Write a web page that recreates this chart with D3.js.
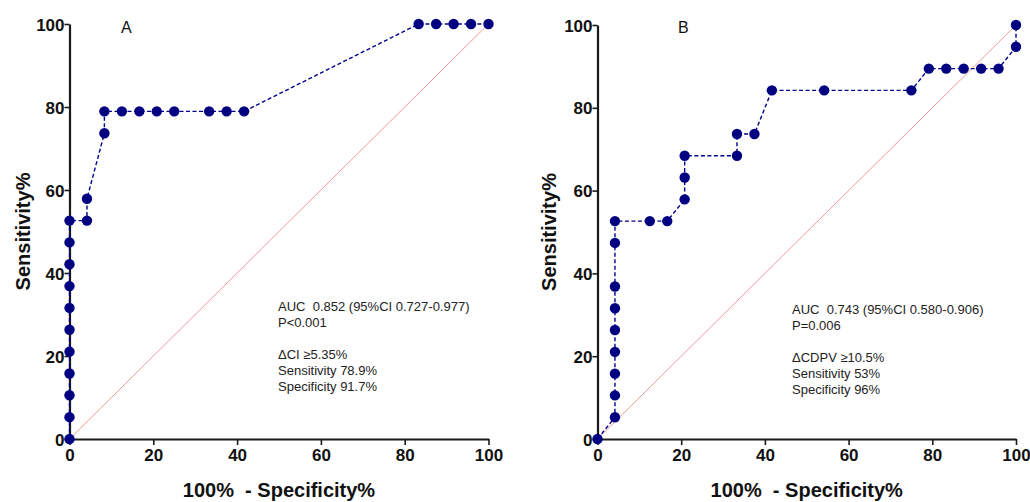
<!DOCTYPE html>
<html>
<head>
<meta charset="utf-8">
<script src="https://cdn.jsdelivr.net/npm/d3@7"></script>
<style>
  body { margin: 0; background: #ffffff; }
</style>
</head>
<body>
<div class="chart"></div>
<script>
var w = 1030;
var h = 502;

// panel A: ROC points (100% - specificity, sensitivity)
var rocAx = [0, 0, 0, 0, 0, 0, 0, 0, 0, 0, 0, 4.17, 4.17, 8.33, 8.33, 12.5, 16.67, 20.83, 25, 33.33, 37.5, 41.67, 83.33, 87.5, 91.67, 95.83, 100];
var rocAy = [0, 5.26, 10.53, 15.79, 21.05, 26.32, 31.58, 36.84, 42.11, 47.37, 52.63, 52.63, 57.89, 73.68, 78.95, 78.95, 78.95, 78.95, 78.95, 78.95, 78.95, 78.95, 100, 100, 100, 100, 100];

// panel B
var rocBx = [0, 4.17, 4.17, 4.17, 4.17, 4.17, 4.17, 4.17, 4.17, 4.17, 12.5, 16.67, 20.83, 20.83, 20.83, 33.33, 33.33, 37.5, 41.67, 54.17, 75, 79.17, 83.33, 87.5, 91.67, 95.83, 100, 100];
var rocBy = [0, 5.26, 10.53, 15.79, 21.05, 26.32, 31.58, 36.84, 47.37, 52.63, 52.63, 52.63, 57.89, 63.16, 68.42, 68.42, 73.68, 73.68, 84.21, 84.21, 84.21, 89.47, 89.47, 89.47, 89.47, 89.47, 94.74, 100];

var ticks = [0, 20, 40, 60, 80, 100];

var notesA = ["AUC  0.852 (95%CI 0.727-0.977)", "P<0.001", "", "\u0394CI \u22655.35%", "Sensitivity 78.9%", "Specificity 91.7%"];
var notesB = ["AUC  0.743 (95%CI 0.580-0.906)", "P=0.006", "", "\u0394CDPV \u226510.5%", "Sensitivity 53%", "Specificity 96%"];

var colorLine = "#00008b";
var colorRef = "#f28c8c";
var font = "'Liberation Sans', Arial, sans-serif";

var svg = d3.select(".chart")
    .append("svg")
    .attr("width", w)
    .attr("height", h)
    .style("background", "#ffffff");

drawPanel({ x0: 69.5, x1: 488.5, y0: 439, y1: 24, xs: rocAx, ys: rocAy, letter: "A", lx: 121, notes: notesA, nx: 278, ny: 311, ylab: 24 });
drawPanel({ x0: 597.5, x1: 1016, y0: 439, y1: 25, xs: rocBx, ys: rocBy, letter: "B", lx: 678, notes: notesB, nx: 792, ny: 314, ylab: 550 });

function drawPanel(p) {
    var x = d3.scaleLinear().domain([0, 100]).range([p.x0, p.x1]);
    var y = d3.scaleLinear().domain([0, 100]).range([p.y0, p.y1]);
    var g = svg.append("g");

    // reference diagonal
    g.append("line")
        .attr("x1", x(0)).attr("y1", y(0))
        .attr("x2", x(100)).attr("y2", y(100))
        .attr("stroke", colorRef)
        .attr("stroke-width", 0.9);

    var xAxis = g.append("g")
        .attr("transform", "translate(0," + p.y0 + ")")
        .call(d3.axisBottom(x).tickValues(ticks).tickSize(6).tickSizeOuter(0).tickPadding(4));
    var yAxis = g.append("g")
        .attr("transform", "translate(" + p.x0 + ",0)")
        .call(d3.axisLeft(y).tickValues(ticks).tickSize(5).tickSizeOuter(0).tickPadding(0));

    [xAxis, yAxis].forEach(function(a) {
        a.select(".domain").attr("stroke", "#1a1a1a").attr("stroke-width", 2.2);
        a.selectAll(".tick line").attr("stroke", "#1a1a1a").attr("stroke-width", 1.6);
        a.selectAll(".tick text")
            .attr("font-family", font)
            .attr("font-weight", "bold")
            .attr("font-size", "17px")
            .attr("fill", "#111");
    });
    yAxis.selectAll(".tick text").attr("dy", "0.36em");

    var pts = p.xs.map(function(d, i) { return [d, p.ys[i]]; });

    g.append("path")
        .datum(pts)
        .attr("fill", "none")
        .attr("stroke", colorLine)
        .attr("stroke-width", 1.4)
        .attr("stroke-dasharray", "4,2.5")
        .attr("d", d3.line().x(function(d) { return x(d[0]); }).y(function(d) { return y(d[1]); }));

    g.selectAll("circle")
        .data(pts)
        .enter()
        .append("circle")
        .attr("cx", function(d) { return x(d[0]); })
        .attr("cy", function(d) { return y(d[1]); })
        .attr("r", 5.2)
        .attr("fill", "#000080");

    svg.append("text")
        .attr("x", p.lx)
        .attr("y", 33)
        .text(p.letter)
        .attr("font-family", font)
        .attr("font-size", "16px")
        .attr("fill", "#111");

    svg.append("text")
        .attr("x", (p.x0 + p.x1) / 2)
        .attr("y", 497)
        .attr("text-anchor", "middle")
        .text("100%  - Specificity%")
        .attr("font-family", font)
        .attr("font-weight", "bold")
        .attr("font-size", "20px")
        .style("white-space", "pre")
        .attr("fill", "#111");

    svg.append("text")
        .attr("transform", "translate(" + (p.ylab + 6) + "," + ((p.y0 + p.y1) / 2) + ") rotate(-90)")
        .attr("text-anchor", "middle")
        .text("Sensitivity%")
        .attr("font-family", font)
        .attr("font-weight", "bold")
        .attr("font-size", "20px")
        .attr("fill", "#111");

    var notes = svg.append("g");
    p.notes.forEach(function(t, i) {
        notes.append("text")
            .attr("x", p.nx)
            .attr("y", p.ny + i * 16)
            .text(t)
            .attr("font-family", font)
            .attr("font-size", "13px")
            .style("white-space", "pre")
            .attr("fill", "#222");
    });
}
</script>
</body>
</html>
